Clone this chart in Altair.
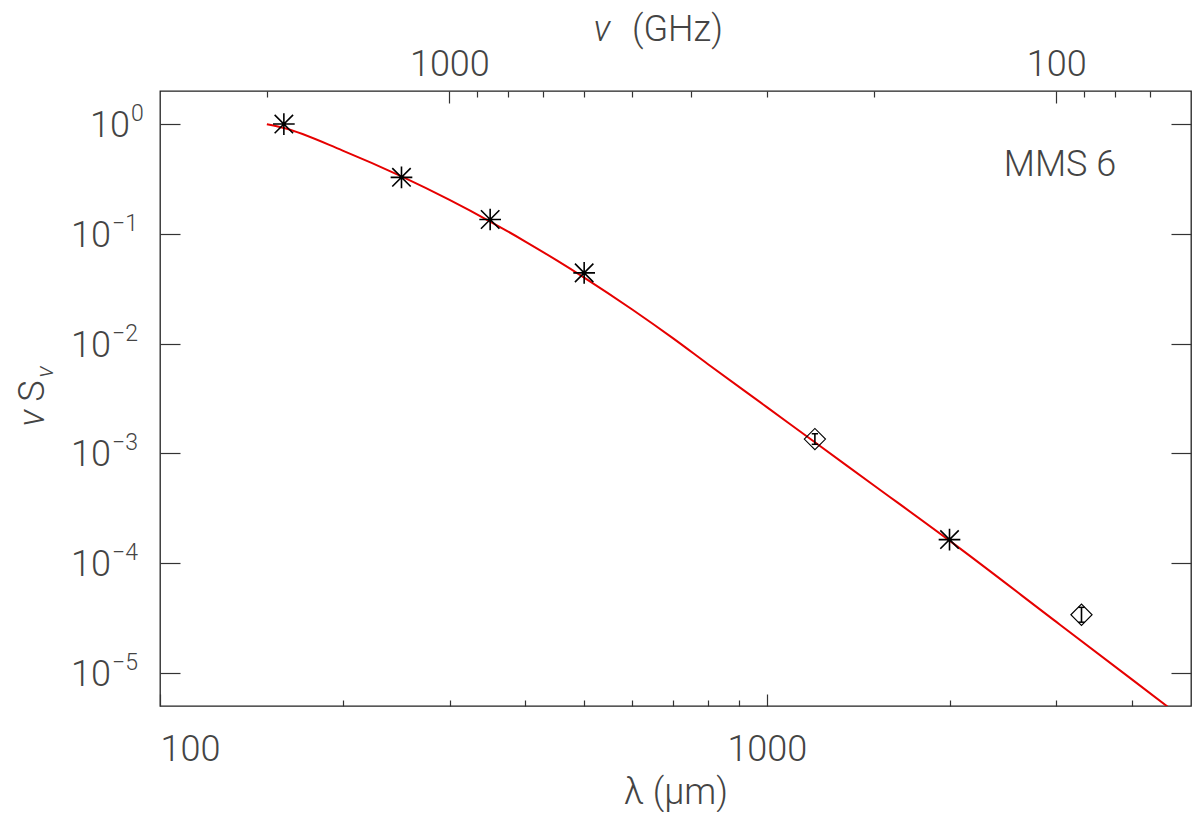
import altair as alt
import pandas as pd

# ---- data ----
# SED points shown with asterisks (lambda in micron, nu*S_nu normalised)
star_lambda = [160, 250, 350, 500, 2000]
star_flux = [1.0, 0.327, 0.135, 0.0441, 1.64e-4]

# points shown with diamonds, with their error bars
dia_lambda = [1200, 3300]
dia_flux = [1.35e-3, 3.39e-5]
dia_lo = [1.21e-3, 2.90e-5]
dia_hi = [1.51e-3, 3.96e-5]

# red fitted curve
fit_lambda = [150, 160, 200, 250, 300, 350, 400, 450, 500, 600, 700, 800,
              1000, 1200, 1500, 2000, 3000, 4000, 5000]
fit_flux = [0.995, 0.9195, 0.5733, 0.3337, 0.2037, 0.1295, 0.08507, 0.05757,
            0.03997, 0.02046, 0.01122, 0.006492, 0.002637, 0.001262, 5.13e-4,
            1.604e-4, 2.917e-5, 8.69e-6, 3.39e-6]

# axes
lam_domain = [100, 5000]
y_domain = [5e-6, 2.0]
lam_major = [100, 1000]
lam_minor = [200, 300, 400, 500, 600, 700, 800, 900, 2000, 3000, 4000]
nu_major = [1000, 100]
nu_minor = [2000, 900, 800, 700, 600, 500, 400, 300, 200, 90, 80, 70]
y_exponents = [0, -1, -2, -3, -4, -5]
label_text = "MMS 6"

C_UM_GHZ = 299792.458  # nu[GHz] = c / lambda[um]
nu_domain = [C_UM_GHZ / lam_domain[1], C_UM_GHZ / lam_domain[0]]

FONT = "Roboto"
FW = 300
TXT = "#444444"
TICK = "#333333"

xs = alt.Scale(type="log", domain=lam_domain, nice=False)
ys = alt.Scale(type="log", domain=y_domain, nice=False)
nus = alt.Scale(type="log", domain=nu_domain, nice=False, reverse=True)

fit_df = pd.DataFrame({"lam": fit_lambda, "f": fit_flux})
star_df = pd.DataFrame({"lam": star_lambda, "f": star_flux})
dia_df = pd.DataFrame({"lam": dia_lambda, "f": dia_flux, "lo": dia_lo, "hi": dia_hi})
cap_df = pd.DataFrame({"lam": dia_lambda + dia_lambda, "f": dia_lo + dia_hi})
ytick_df = pd.DataFrame({"v": [10.0 ** e for e in y_exponents], "e": y_exponents})
ytick_df["sup"] = ytick_df["e"].map(lambda e: str(e).replace("-", "\u2212"))

# layer 1: fitted curve, carries bottom major axis and left axis
curve = alt.Chart(fit_df).mark_line(color="#e60000", strokeWidth=2, clip=True,
                                    interpolate="monotone").encode(
    x=alt.X("lam:Q", scale=xs, axis=alt.Axis(
        orient="bottom", values=lam_major, format="d", offset=-12, tickSize=12,
        labelPadding=26, domain=False, grid=False, title="\u03bb  (\u03bcm)",
        titlePadding=8)),
    y=alt.Y("f:Q", scale=ys, axis=alt.Axis(
        orient="left", values=[10.0 ** e for e in y_exponents], offset=-20,
        tickSize=20, labels=False, domain=False, grid=False, title=None)),
)

# layer 2: bottom minor ticks
minor_bottom = alt.Chart(pd.DataFrame({"lam": lam_minor})).mark_point(opacity=0).encode(
    x=alt.X("lam:Q", scale=xs, axis=alt.Axis(
        orient="bottom", values=lam_minor, offset=-6, tickSize=6, labels=False,
        domain=False, grid=False, title=None)),
)

# layer 3: right axis ticks
right_axis = alt.Chart(ytick_df).mark_point(opacity=0).encode(
    y=alt.Y("v:Q", scale=ys, axis=alt.Axis(
        orient="right", values=[10.0 ** e for e in y_exponents], offset=-20,
        tickSize=20, labels=False, domain=False, grid=False, title=None)),
)

# layer 4: top axis (frequency) major ticks
top_major = alt.Chart(pd.DataFrame({"nu": nu_major})).mark_point(opacity=0).encode(
    x=alt.X("nu:Q", scale=nus, axis=alt.Axis(
        orient="top", values=nu_major, format="d", offset=-12, tickSize=12,
        labelPadding=8, domain=False, grid=False, title=None)),
)

# layer 5: top minor ticks
top_minor = alt.Chart(pd.DataFrame({"nu": nu_minor})).mark_point(opacity=0).encode(
    x=alt.X("nu:Q", scale=nus, axis=alt.Axis(
        orient="top", values=nu_minor, offset=-6, tickSize=6, labels=False,
        domain=False, grid=False, title=None)),
)

star_shape = "M-1,0L1,0M0,-1L0,1M-0.85,-0.85L0.85,0.85M-0.85,0.85L0.85,-0.85"
stars = alt.Chart(star_df).mark_point(shape=star_shape, size=470, filled=False,
                                      color="black", strokeWidth=1.6, opacity=1).encode(
    x=alt.X("lam:Q", scale=xs, axis=None),
    y=alt.Y("f:Q", scale=ys, axis=None),
)

diamonds = alt.Chart(dia_df).mark_point(shape="M-1,0L0,-1L1,0L0,1Z", size=450,
                                        filled=False, color="black", strokeWidth=1.1,
                                        opacity=1).encode(
    x=alt.X("lam:Q", scale=xs, axis=None),
    y=alt.Y("f:Q", scale=ys, axis=None),
)

err = alt.Chart(dia_df).mark_rule(color="black", strokeWidth=1.6).encode(
    x=alt.X("lam:Q", scale=xs, axis=None),
    y=alt.Y("lo:Q", scale=ys, axis=None),
    y2="hi:Q",
)

caps = alt.Chart(cap_df).mark_point(shape="M-1,0L1,0", size=40, filled=False,
                                    color="black", strokeWidth=1.5, opacity=1).encode(
    x=alt.X("lam:Q", scale=xs, axis=None),
    y=alt.Y("f:Q", scale=ys, axis=None),
)

# y tick labels as 10 with superscript exponent
base_zero = alt.Chart(ytick_df).transform_filter("datum.e == 0")
base_neg = alt.Chart(ytick_df).transform_filter("datum.e < 0")


def ten(base, xpos):
    return base.mark_text(align="right", baseline="middle", dy=2, font=FONT,
                          fontWeight=FW, fontSize=36, color=TXT).encode(
        x=alt.value(xpos), y=alt.Y("v:Q", scale=ys, axis=None), text=alt.value("10"))


def sup(base, xpos):
    return base.mark_text(align="left", baseline="middle", dy=-10, font=FONT,
                          fontWeight=FW, fontSize=23, color=TXT).encode(
        x=alt.value(xpos), y=alt.Y("v:Q", scale=ys, axis=None), text="sup:N")


ten0 = ten(base_zero, -30)
sup0 = sup(base_zero, -29)
tenn = ten(base_neg, -49)
supn = sup(base_neg, -48)


def txt(t, x, y, size=36, angle=0, align="center", baseline="middle", italic=False):
    kw = dict(align=align, baseline=baseline, font=FONT, fontWeight=FW,
              fontSize=size, color=TXT)
    if angle:
        kw["angle"] = angle
    if italic:
        kw["fontStyle"] = "italic"
    return alt.Chart(pd.DataFrame({"t": [t]})).mark_text(**kw).encode(
        x=alt.value(x), y=alt.value(y), text="t:N")


# y axis title: nu S_nu (rotated)
yt_nu = txt("\u03bd", -116, 327, angle=270, baseline="alphabetic", italic=True)
yt_s = txt("S", -116, 300, angle=270, baseline="alphabetic")
yt_sub = txt("\u03bd", -107, 281, size=24, angle=270, baseline="alphabetic", italic=True)

# top axis title: nu (GHz)
tt_nu = txt("\u03bd", 442, -61, italic=True)
tt_ghz = txt("(GHz)", 472, -61, align="left")

name = txt(label_text, 900, 74)

chart = alt.layer(
    curve, minor_bottom, right_axis, top_major, top_minor,
    err, caps, diamonds, stars,
    ten0, sup0, tenn, supn, yt_nu, yt_s, yt_sub, tt_nu, tt_ghz, name,
).resolve_scale(x="independent", y="independent").resolve_axis(
    x="independent", y="independent"
).properties(
    width=1031, height=615,
    padding={"left": 152, "top": 83, "right": 1, "bottom": 106},
    autosize=alt.AutoSizeParams(type="none"),
    background="white",
).configure_view(
    stroke="#222222", strokeWidth=1.3
).configure_axis(
    tickColor=TICK, tickWidth=1.2, labelFont=FONT, labelFontWeight=FW,
    labelFontSize=36, labelColor=TXT, titleFont=FONT, titleFontWeight=FW,
    titleFontSize=36, titleColor=TXT,
)

chart.save("out.html", embed_options={"renderer": "svg", "actions": False})
